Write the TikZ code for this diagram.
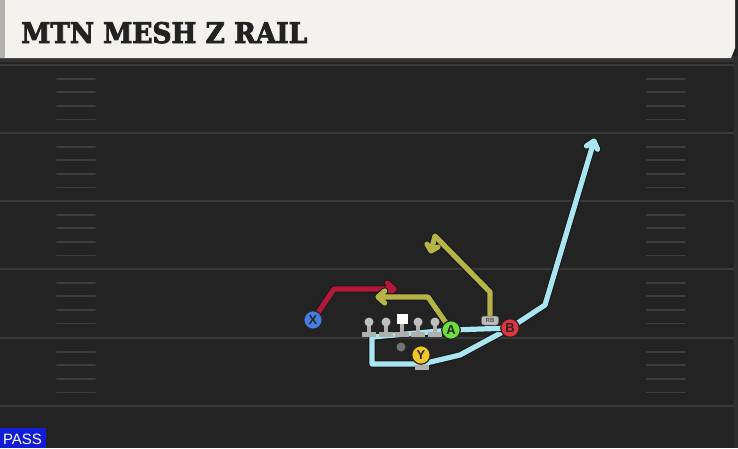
\documentclass[tikz,border=0pt]{standalone}
\usepackage{fontspec}
\usepackage{graphicx}
\setmainfont{Liberation Sans}
\newfontfamily\titlefont{DejaVu Serif}[FakeBold=3]
\usetikzlibrary{calc}
\definecolor{fieldbg}{RGB}{35,35,35}
\definecolor{yardline}{RGB}{58,58,58}
\definecolor{hashcol}{RGB}{62,62,62}
\definecolor{headerbg}{RGB}{244,242,236}
\definecolor{titlecol}{RGB}{34,34,34}
\definecolor{redroute}{RGB}{178,24,58}
\definecolor{oliveroute}{RGB}{182,180,70}
\definecolor{blueroute}{RGB}{170,230,242}
\definecolor{xblue}{RGB}{70,125,225}
\definecolor{agreen}{RGB}{110,222,60}
\definecolor{bred}{RGB}{228,50,62}
\definecolor{yyellow}{RGB}{242,196,40}
\definecolor{olgray}{RGB}{176,176,176}
\definecolor{rbgray}{RGB}{188,188,188}
\definecolor{passblue}{RGB}{18,28,215}
\tikzset{
  route/.style={line width=5.2pt, line join=round, line cap=round,
    preaction={draw=black!90, line width=7.4pt, line join=round, line cap=round}},
  player/.style={circle, draw=black!85, line width=1.2pt, minimum size=18.5pt, inner sep=0pt,
    font=\bfseries\fontsize{13}{13}\selectfont, text=black!85},
  yardln/.style={draw=yardline, line width=2.8pt},
  hashln/.style={draw=hashcol, line width=1.8pt, line cap=round},
  olpart/.style={fill=olgray}
}
\begin{document}
\begin{tikzpicture}[x=1pt,y=-1pt]
\useasboundingbox (0,0) rectangle (738,448);
% field
\fill[fieldbg] (0,0) rectangle (738,448);
\fill[black!80] (0,56) rectangle (738,62);
\fill[black!82] (734,56) rectangle (738,448);
% yard lines
\foreach \yy in {65,133,201,269,338,406} {
  \draw[yardln] (0,\yy) -- (734,\yy);
}
% hash marks
\foreach \yy in {65,133,201,269,338} {
  \foreach \k in {1,2,3,4} {
    \draw[hashln] (57,{\yy+13.6*\k}) -- (95,{\yy+13.6*\k});
    \draw[hashln] (647,{\yy+13.6*\k}) -- (685,{\yy+13.6*\k});
  }
}
% header
\fill[headerbg] (0,0) -- (735,0) -- (735,48) -- (731,58) -- (0,58) -- cycle;
\fill[black!30] (0,0) rectangle (5,58);
\node[anchor=base west, inner sep=0pt, text=titlecol] (title) at (21,43)
  {\resizebox{286pt}{21pt}{\titlefont\bfseries MTN MESH Z RAIL}};
% pass label
\fill[passblue] (0,428) rectangle (46,448);
\node[text=white, inner sep=0pt, font=\fontsize{15}{15}\selectfont] (pass) at (22.5,439) {PASS};

% player positions
\coordinate (X) at (313,320);
\coordinate (A) at (451,330);
\coordinate (B) at (510,328);
\coordinate (Y) at (421,355);
\coordinate (RB) at (490,320.5);
% route points
\coordinate (x1) at (334,289);
\coordinate (x2) at (394,289);
\coordinate (a1) at (428,297);
\coordinate (a2) at (378,297);
\coordinate (r1) at (490,292);
\coordinate (r2) at (435,236);
\coordinate (r3) at (431,251);
\coordinate (b1) at (372,337);
\coordinate (b2) at (372,364);
\coordinate (b3) at (422,364);
\coordinate (b4) at (460,355);
\coordinate (b5) at (545,305);
\coordinate (b6) at (594,141);

% blue route
\draw[route, draw=blueroute] (A) -- (b1) -- (b2) -- (b3) -- (b4) -- (B) -- (b5) -- (b6)
  ($(b6)!9pt!40:(b5)$) -- (b6) -- ($(b6)!9pt!-40:(b5)$);
\draw[route, draw=blueroute] (A) -- (B);
% red route
\draw[route, draw=redroute] (X) -- (x1) -- (x2)
  ($(x2)!9pt!42:(x1)$) -- (x2) -- ($(x2)!9pt!-42:(x1)$);
% olive routes
\draw[route, draw=oliveroute] (A) -- (a1) -- (a2)
  ($(a2)!9pt!42:(a1)$) -- (a2) -- ($(a2)!9pt!-42:(a1)$);
\draw[route, draw=oliveroute] (RB) -- (r1) -- (r2) -- (r3)
  ($(r3)!8pt!45:(r2)$) -- (r3) -- ($(r3)!8pt!-45:(r2)$);

% offensive line
\foreach \xx in {369,386,418,435} {
  \fill[olpart] (\xx-2,322) rectangle (\xx+2,333);
  \fill[olpart] (\xx-7,331.5) rectangle (\xx+7,337);
  \fill[black!25] (\xx,322) circle (4.5pt);
}
\fill[olpart] (400,320) rectangle (404,333);
\fill[olpart] (395,331.5) rectangle (409,337);
\fill[white] (396.5,313.5) rectangle (407.5,323.5);
% QB dot and Y stand
\fill[black!55] (401,347) circle (4.5pt);
\fill[olgray] (414.5,365) rectangle (428.5,370);

% players
\node[player, fill=xblue] (nX) at (X) {X};
\node[player, fill=agreen] (nA) at (A) {A};
\node[player, fill=bred] (nB) at (B) {B};
\node[player, fill=yyellow] (nY) at (Y) {Y};
\node[rounded corners=2.5pt, fill=rbgray, draw=black!60, line width=0.5pt,
  minimum width=17pt, minimum height=9pt, inner sep=0pt, text=black!70,
  font=\bfseries\fontsize{6}{6}\selectfont] (nRB) at (RB) {RB};
\end{tikzpicture}
\end{document}
